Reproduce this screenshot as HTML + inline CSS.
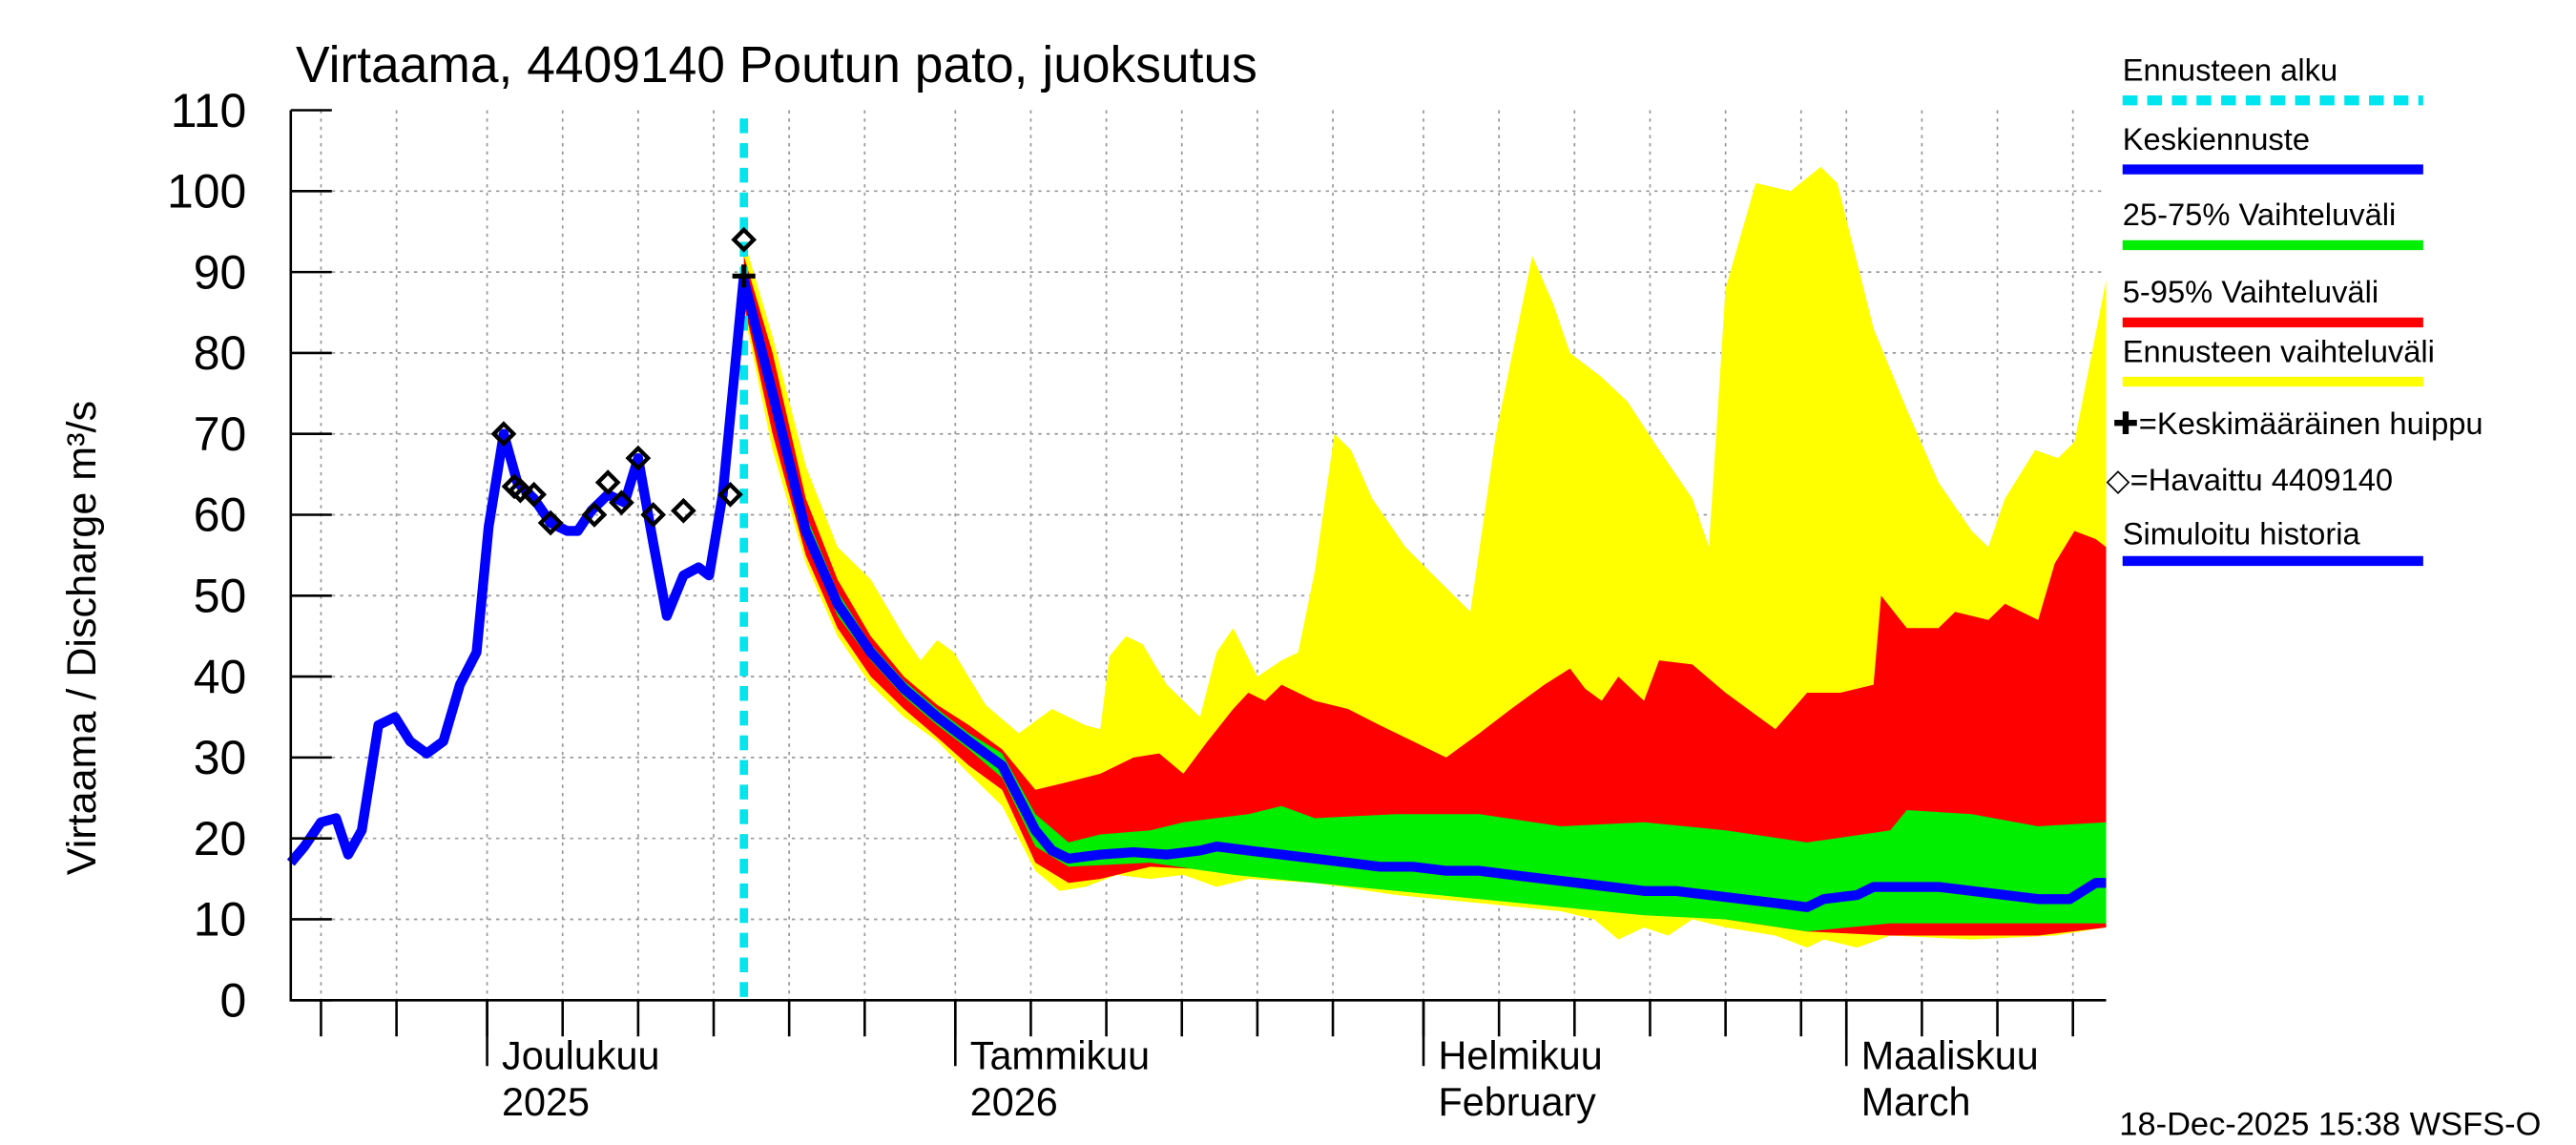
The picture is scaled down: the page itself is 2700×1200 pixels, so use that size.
<!DOCTYPE html>
<html><head><meta charset="utf-8">
<style>
html,body{margin:0;padding:0;background:#fff;}
svg{display:block;font-family:"Liberation Sans",sans-serif;}
</style></head>
<body>
<svg id="chart" width="2700" height="1200" viewBox="0 0 1568 696" preserveAspectRatio="none" xmlns="http://www.w3.org/2000/svg">
<rect x="0" y="0" width="1568" height="696" fill="#fff"/>
<g id="grid"></g>
<g id="bands"></g>
<g id="lines"></g>
<g id="axes"></g>
<g id="legend"></g>
</svg>
<script>
// ---- data (day offset from 18-Nov-2025, value m3/s) ----
const yTicks=[0,10,20,30,40,50,60,70,80,90,100,110];
const monthDays=[13,44,75,103];
const monthLabels1=["Joulukuu","Tammikuu","Helmikuu","Maaliskuu"];
const monthLabels2=["2025","2026","February","March"];
const forecastStartDay=30;
const histDays=[0,0.9,2.0,3.0,3.8,4.7,5.8,6.9,7.9,9.0,10.1,11.2,12.3,13.1,14.1,15.0,16.1,17.2,18.3,19.0,19.9,21.0,22.1,23.0,24.0,24.9,26.0,27.0,27.7,28.6,30.0];
const histVals=[17,19,22,22.5,18,21,34,35,32,30.5,32,39,43,58.5,70,64,62,59,58,58,60.5,62.5,61.5,67,56.5,47.5,52.5,53.5,52.5,62.5,89.5];
const obsDays=[14.1,14.8,15.2,16.1,17.2,20.1,21.0,21.9,23.0,24.0,26.0,29.1,30.0];
const obsVals=[70,63.5,63,62.5,59,60,64,61.5,67,60,60.5,62.5,94];
const peakDay=30.0, peakVal=89.5;
const medDays=[30,31.9,34.1,36.2,38.4,40.6,42.8,44.9,47.1,48.2,49.3,50.4,51.5,53.6,55.8,58.0,60.2,61.3,63.4,65.6,67.8,70.0,72.1,74.3,76.5,78.7,80.8,83.0,85.2,87.4,89.6,91.7,93.9,96.1,98.3,100.4,101.5,103.7,104.8,107.0,109.1,111.3,113.5,115.7,117.8,119.5,120.2];
const medVals=[89,75,58,49,43,38.5,35,32,29,25,21,18.5,17.5,18,18.3,18,18.5,19,18.5,18,17.5,17,16.5,16.5,16,16,15.5,15,14.5,14,13.5,13.5,13,12.5,12,11.5,12.5,13,14,14,14,13.5,13,12.5,12.5,14.5,14.5];
const grnUpDays=[30,31.9,34.1,36.2,38.4,40.6,42.8,44.9,47.1,49.3,51.5,53.6,56.9,59.1,63.4,65.6,67.8,73.2,78.7,84.1,89.6,95.0,100.4,105.9,107.0,111.3,115.7,120.2];
const grnUpVals=[90,77,60,50.5,44,39.5,36,33,30.5,23,19.5,20.5,21,22,23,24,22.5,23,23,21.5,22,21,19.5,21,23.5,23,21.5,22];
const grnLoDays=[30,31.9,34.1,36.2,38.4,40.6,42.8,44.9,47.1,49.3,51.5,56.9,62.4,67.8,73.2,78.7,84.1,89.6,95.0,100.4,105.9,111.3,120.2];
const grnLoVals=[88,73,56.5,47.5,42,37.5,34,31,27.5,19,16.5,17,15.5,14.5,13.5,12.5,11.5,10.5,10,8.5,9.5,9.5,9.5];
const redUpDays=[30,31.9,34.1,36.2,38.4,40.6,42.8,44.9,47.1,49.3,51.5,53.6,55.8,57.5,59.1,60.7,62.4,63.4,64.5,65.6,67.8,70.0,72.1,74.3,76.5,78.7,80.8,83.0,84.7,85.7,86.8,87.9,89.6,90.6,92.8,95.0,97.2,98.3,100.4,102.6,104.8,105.3,107.0,109.1,110.2,112.4,113.5,115.7,116.8,118.1,119.5,120.2];
const redUpVals=[92,80,62,52,45,40,36.5,34,31,26,27,28,30,30.5,28,32,36,38,37,39,37,36,34,32,30,33,36,39,41,38.5,37,40,37,42,41.5,38,35,33.5,38,38,39,50,46,46,48,47,49,47,54,58,57,56];
const redLoDays=[30,31.9,34.1,36.2,38.4,40.6,42.8,44.9,47.1,49.3,51.5,53.6,56.9,62.4,67.8,73.2,78.7,84.1,89.6,95.0,100.4,105.9,111.3,115.7,120.2];
const redLoVals=[86,70,55,46,40,36,32.5,29,26,17,14.5,15,16.5,16,15,14,13,12,11,10,8.5,8,8,8,9];
const yelUpDays=[30,31.9,34.1,36.2,38.4,40.6,41.7,42.8,43.9,46.0,48.2,50.4,52.6,53.6,54.2,55.3,56.4,58.0,59.1,60.2,61.3,62.4,64.0,65.6,66.7,67.8,69.1,70.2,71.6,73.8,75.4,78.1,79.8,82.2,83.6,84.7,86.8,88.5,90.6,92.8,93.9,95.0,97.0,99.3,101.3,102.4,104.8,107.0,109.1,111.3,112.4,113.5,115.5,117.0,118.1,120.2];
const yelUpVals=[94,82,66,56,52,45,42,44.5,43,36.5,33,36,34,33.5,42.5,45,44,39,37,35,43,46,40,42,43,53,70,68,62,56,53,48,70,92,86,80,77,74,68,62,56,88,101,100,103,101,83,73,64,58,56,62,68,67,69,89];
const yelLoDays=[30,31.9,34.1,36.2,38.4,40.6,42.8,44.9,47.1,49.3,50.9,52.6,54.7,56.9,59.1,61.3,63.4,67.8,73.2,78.7,84.1,86.3,87.9,89.6,91.2,92.8,95.0,98.3,100.4,101.5,103.7,105.9,111.3,116.8,120.2];
const yelLoVals=[85,68,54,45,39,35,32,28,24,16,13.5,14,15.5,15,15.5,14,15,14.5,13,12,11,10,7.5,9,8,10,9,8,6.5,7.5,6.5,8,7.5,8,9];

// ---- axes ----
const X0=177,X1=1282,Y0=608,Y1=67,DMAX=120.2,VMAX=110;
const xs=d=>X0+(X1-X0)*d/DMAX;
const ys=v=>Y0-(Y0-Y1)*v/VMAX;
const NS="http://www.w3.org/2000/svg";
function mk(tag,attrs,parent,text){const e=document.createElementNS(NS,tag);for(const k in attrs)e.setAttribute(k,attrs[k]);if(text!==undefined)e.textContent=text;parent.appendChild(e);return e;}
const G=id=>document.getElementById(id);

// grid
const grid=G('grid');
yTicks.forEach(v=>{if(v>0&&v<110){const l=mk('line',{x1:X0,x2:X1,y1:ys(v),y2:ys(v),stroke:'#999','stroke-width':1,'stroke-dasharray':'2,3'},grid);

}});
const gridDays=[];
[2,7].forEach(d=>gridDays.push(d));
[[13,31],[44,31],[75,28],[103,31]].forEach(([s,len])=>{[0,5,10,15,20,25].forEach(o=>{if(s+o<DMAX)gridDays.push(s+o);});});
gridDays.forEach(d=>{const l=mk('line',{x1:xs(d),x2:xs(d),y1:Y1,y2:Y0,stroke:'#999','stroke-width':1,'stroke-dasharray':'2,3'},grid);

});

// bands
function pts(d,v){return d.map((x,i)=>xs(x)+','+ys(v[i]));}
function band(ud,uv,ld,lv,color,name){const p=pts(ud,uv).concat(pts(ld,lv).reverse());const e=mk('polygon',{points:p.join(' '),fill:color},G('bands'));

}
band(yelUpDays,yelUpVals,yelLoDays,yelLoVals,'#ffff00','forecast-range-band');
band(redUpDays,redUpVals,redLoDays,redLoVals,'#ff0000','band-5-95');
band(grnUpDays,grnUpVals,grnLoDays,grnLoVals,'#00ee00','band-25-75');

// lines
const lines=G('lines');
const fl=mk('line',{x1:xs(forecastStartDay),x2:xs(forecastStartDay),y1:Y1+5,y2:Y0,stroke:'#00e5ee','stroke-width':5,'stroke-dasharray':'9,6'},lines);


const hl=mk('polyline',{points:pts(histDays,histVals).join(' '),fill:'none',stroke:'#0000ff','stroke-width':6,'stroke-linejoin':'round'},lines);


const ml=mk('polyline',{points:pts(medDays,medVals).join(' '),fill:'none',stroke:'#0000ff','stroke-width':6,'stroke-linejoin':'round'},lines);


obsDays.forEach((d,i)=>{const x=xs(d),y=ys(obsVals[i]);const e=mk('polygon',{points:`${x},${y-6} ${x+6},${y} ${x},${y+6} ${x-6},${y}`,fill:'none',stroke:'#000','stroke-width':2.5},lines);

});
const pk=mk('path',{d:`M${xs(peakDay)-7},${ys(peakVal)}h14M${xs(peakDay)},${ys(peakVal)-7}v14`,stroke:'#000','stroke-width':3},lines);



// axes
const ax=G('axes');
const frame=mk('path',{d:`M${X0},${Y1}V${Y0}H${X1}`,stroke:'#000','stroke-width':1.5,fill:'none'},ax);


yTicks.forEach(v=>{mk('line',{x1:X0,x2:X0+25,y1:ys(v),y2:ys(v),stroke:'#000','stroke-width':1.5},ax);
const t=mk('text',{x:150,y:ys(v)+10,'font-size':29,'text-anchor':'end'},ax,String(v));

});
gridDays.forEach(d=>mk('line',{x1:xs(d),x2:xs(d),y1:Y0,y2:Y0+22,stroke:'#000','stroke-width':1.5},ax));
monthDays.forEach((d,i)=>{mk('line',{x1:xs(d),x2:xs(d),y1:Y0,y2:Y0+40,stroke:'#000','stroke-width':1.5},ax);
const a=mk('text',{x:xs(d)+9,y:650,'font-size':24},ax,monthLabels1[i]);


const b=mk('text',{x:xs(d)+9,y:678,'font-size':24},ax,monthLabels2[i]);

});
const yt=mk('text',{x:0,y:0,'font-size':25,transform:'translate(58,532) rotate(-90)','xml:space':'preserve'},ax,'Virtaama / Discharge     m³/s');


const ti=mk('text',{x:180,y:50,'font-size':31},ax,'Virtaama, 4409140 Poutun pato, juoksutus');


const ft=mk('text',{x:1290,y:690,'font-size':20},ax,'18-Dec-2025 15:38 WSFS-O');



// legend
const lg=G('legend');
const legItems=[["Ennusteen alku",49,'#00e5ee','dash'],["Keskiennuste",91,'#0000ff'],["25-75% Vaihteluväli",137,'#00ee00'],["5-95% Vaihteluväli",184,'#ff0000'],["Ennusteen vaihteluväli",220,'#ffff00']];
legItems.forEach(([txt,y,c,s])=>{const t=mk('text',{x:1292,y:y,'font-size':19},lg,txt);


mk('line',{x1:1292,x2:1475,y1:y+12,y2:y+12,stroke:c,'stroke-width':6,'stroke-dasharray':s?'9,6':'none'},lg);});
const t1=mk('text',{x:1286,y:264,'font-size':19},lg,'✚=Keskimääräinen huippu');


const t2=mk('text',{x:1282,y:298,'font-size':19},lg,'◇=Havaittu 4409140');


const t3=mk('text',{x:1292,y:331,'font-size':19},lg,'Simuloitu historia');


mk('line',{x1:1292,x2:1475,y1:341,y2:341,stroke:'#0000ff','stroke-width':6},lg);
</script>
</body></html>
